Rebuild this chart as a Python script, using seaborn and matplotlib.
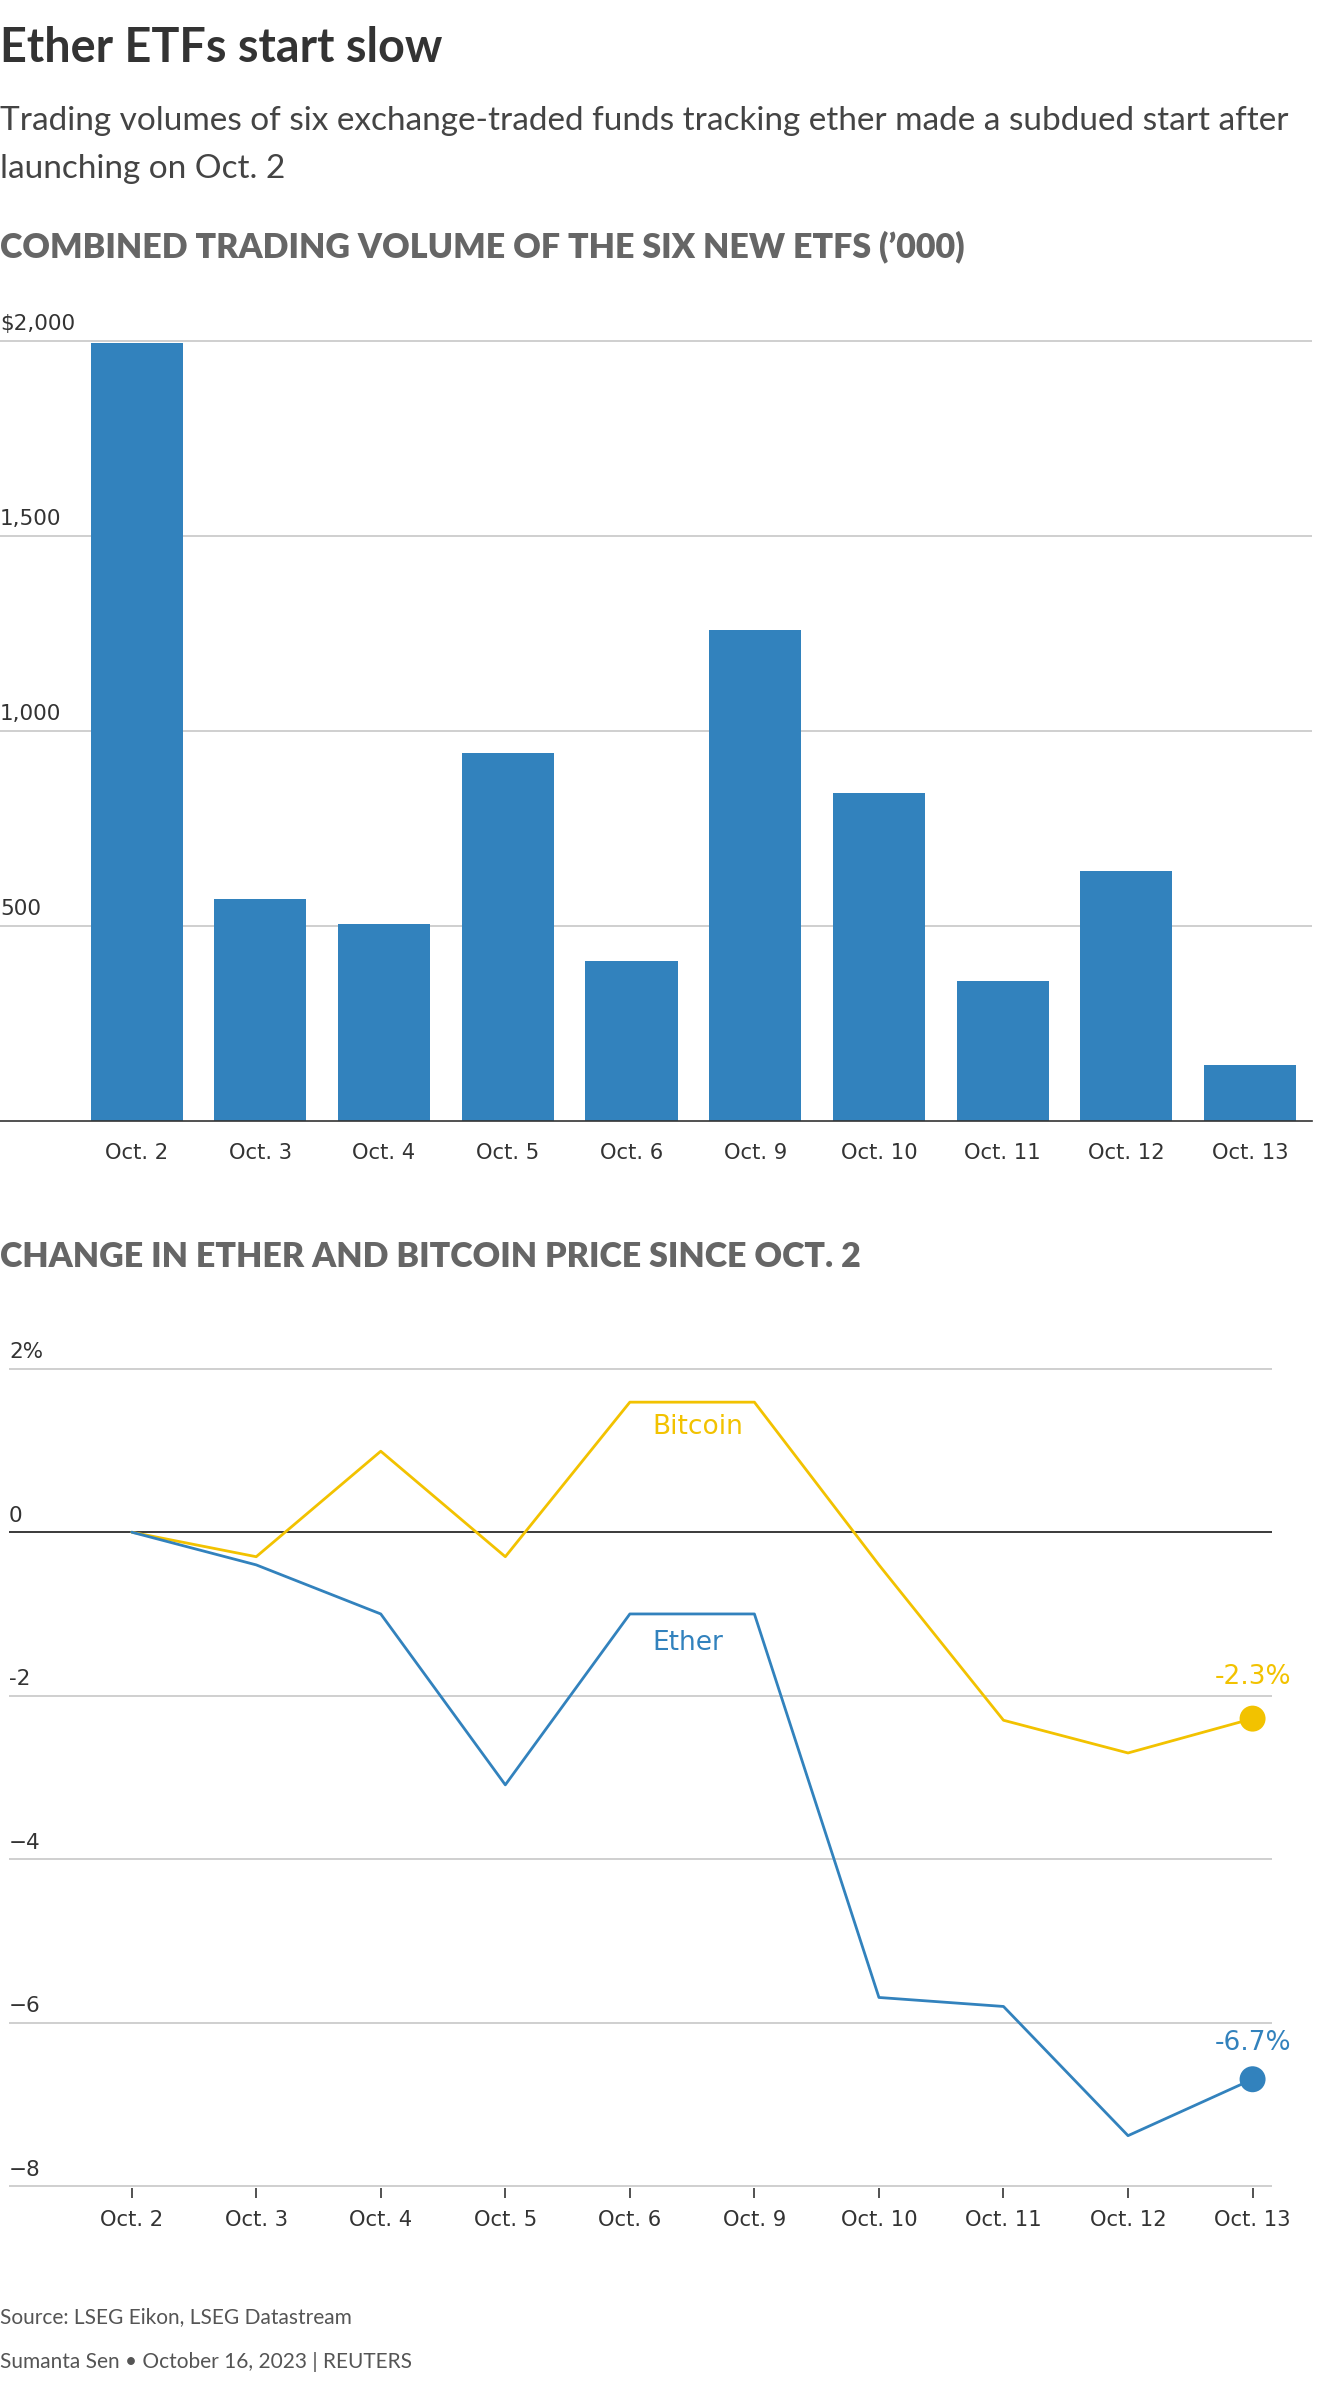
import matplotlib
matplotlib.use("Agg")
import matplotlib.pyplot as plt
import matplotlib.transforms as mtrans
from matplotlib import font_manager
import seaborn as sns
import pandas as pd
import numpy as np

# ---------------- data ----------------
dates = ["Oct. 2", "Oct. 3", "Oct. 4", "Oct. 5", "Oct. 6",
         "Oct. 9", "Oct. 10", "Oct. 11", "Oct. 12", "Oct. 13"]
volume = [1995, 569, 504, 943, 410, 1258, 841, 359, 641, 144]
bitcoin = [0.0, -0.30, 0.99, -0.30, 1.59, 1.59, -0.40, -2.30, -2.70, -2.28]
ether = [0.0, -0.40, -1.00, -3.09, -1.00, -1.00, -5.69, -5.80, -7.38, -6.69]
vol_ticks = [500, 1000, 1500, 2000]
vol_tick_labels = ["500", "1,000", "1,500", "$2,000"]
pct_ticks = [2, 0, -2, -4, -6, -8]
pct_tick_labels = ["2%", "0", "-2", "\u22124", "\u22126", "\u22128"]

title = "Ether ETFs start slow"
subtitle = ["Trading volumes of six exchange-traded funds tracking ether made a subdued start after",
            "launching on Oct. 2"]
header1 = "COMBINED TRADING VOLUME OF THE SIX NEW ETFS (\u2019000)"
header2 = "CHANGE IN ETHER AND BITCOIN PRICE SINCE OCT. 2"
source = "Source: LSEG Eikon, LSEG Datastream"
credit = "Sumanta Sen \u2022 October 16, 2023 | REUTERS"

BLUE = "#3282bd"
YELLOW = "#f2c200"
GRID = "#cccccc"
TXT = "#333333"

W, H = 1320, 2384

sns.set_theme(style="white")
plt.rcParams['font.family'] = ['DejaVu Sans']

avail = {f.name for f in font_manager.fontManager.ttflist}
HEAD_FONT = "Lato" if "Lato" in avail else "DejaVu Sans"

fig = plt.figure(figsize=(W / 100, H / 100), dpi=100)
fig.patch.set_facecolor("white")

def fy(px):
    return 1 - px / H

# ---------------- titles ----------------
fig.text(0.0, fy(62), title, family=HEAD_FONT, weight="bold", fontsize=33.7, color="#333333", va="baseline")
fig.text(0.0, fy(130), subtitle[0], family=HEAD_FONT, fontsize=24, color="#444444", va="baseline")
fig.text(0.0, fy(178), subtitle[1], family=HEAD_FONT, fontsize=24, color="#444444", va="baseline")
fig.text(0.0, fy(257), header1, family=HEAD_FONT, weight="heavy", fontsize=24.5, color="#666666", va="baseline")
fig.text(0.0, fy(1267), header2, family=HEAD_FONT, weight="heavy", fontsize=24.5, color="#666666", va="baseline")
fig.text(0.0, fy(2323), source, family=HEAD_FONT, fontsize=15, color="#555555", va="baseline")
fig.text(0.0, fy(2368), credit, family=HEAD_FONT, fontsize=15, color="#555555", va="baseline")

# ---------------- bar chart ----------------
ax1 = fig.add_axes([0.0, fy(1121), 1312 / W, (1121 - 339) / H])
df_vol = pd.DataFrame({"date": dates, "volume": volume})
sns.barplot(data=df_vol, x="date", y="volume", order=dates, color=BLUE, saturation=1,
            width=0.745, linewidth=0, ax=ax1, zorder=2)
ax1.set_xlim(-1.104, 9.5)
ax1.set_ylim(0, 2004)
ax1.set_xlabel("")
ax1.set_ylabel("")
for s in ["top", "right", "left"]:
    ax1.spines[s].set_visible(False)
ax1.spines["bottom"].set_color(TXT)
ax1.spines["bottom"].set_linewidth(1.2)
ax1.spines["bottom"].set_zorder(3)
ax1.set_yticks(vol_ticks)
ax1.yaxis.grid(True, color=GRID, linewidth=1.3, zorder=0)
ax1.set_axisbelow(True)
ax1.tick_params(axis="y", length=0, labelleft=False)
ax1.tick_params(axis="x", length=7, width=1.2, color=TXT, pad=9, labelsize=15.2, labelcolor=TXT)
ax1.patch.set_alpha(0)
off1 = mtrans.offset_copy(ax1.get_yaxis_transform(), fig=fig, y=7.5, units="points")
for v, lab in zip(vol_ticks, vol_tick_labels):
    ax1.text(0.0, v, lab, transform=off1, ha="left", va="baseline", fontsize=15.5, color=TXT)

# ---------------- line chart ----------------
ax2 = fig.add_axes([9 / W, fy(2188), (1272 - 9) / W, (2188 - 1367) / H])
xpos = list(range(len(dates)))
df_line = pd.DataFrame({"x": xpos * 2,
                        "change": bitcoin + ether,
                        "asset": ["Bitcoin"] * len(dates) + ["Ether"] * len(dates)})
sns.lineplot(data=df_line, x="x", y="change", hue="asset",
             palette={"Bitcoin": YELLOW, "Ether": BLUE}, linewidth=2.0,
             legend=False, ax=ax2, zorder=3)
df_end = pd.DataFrame({"x": [xpos[-1], xpos[-1]],
                       "change": [bitcoin[-1], ether[-1]],
                       "asset": ["Bitcoin", "Ether"]})
sns.scatterplot(data=df_end, x="x", y="change", hue="asset",
                palette={"Bitcoin": YELLOW, "Ether": BLUE}, s=350, linewidth=0,
                legend=False, ax=ax2, zorder=4, clip_on=False)
ax2.set_xlim(-0.985, 9.156)
ax2.set_ylim(-8.02, 2.02)
ax2.set_xlabel("")
ax2.set_ylabel("")
for s in ["top", "right", "left", "bottom"]:
    ax2.spines[s].set_visible(False)
ax2.set_yticks(pct_ticks)
ax2.yaxis.grid(True, color=GRID, linewidth=1.3, zorder=0)
ax2.axhline(0, color="#222222", linewidth=1.2, zorder=2)
ax2.set_xticks(xpos)
ax2.set_xticklabels(dates)
ax2.tick_params(axis="y", length=0, labelleft=False)
ax2.tick_params(axis="x", bottom=True, length=7, width=1.2, color=TXT, pad=9,
                labelsize=15.2, labelcolor=TXT)
ax2.patch.set_alpha(0)
off2 = mtrans.offset_copy(ax2.get_yaxis_transform(), fig=fig, y=7.5, units="points")
for v, lab in zip(pct_ticks, pct_tick_labels):
    ax2.text(0.0, v, lab, transform=off2, ha="left", va="baseline", fontsize=15.5, color=TXT)

# series labels
ax2.text(4.18, 1.29, "Bitcoin", color=YELLOW, fontsize=19, ha="left", va="center")
ax2.text(4.18, -1.35, "Ether", color=BLUE, fontsize=19, ha="left", va="center")
ax2.annotate(f"{bitcoin[-1]:.1f}%", (xpos[-1], bitcoin[-1]), xytext=(0, 30),
             textcoords="offset points", ha="center", va="center", fontsize=19,
             color=YELLOW, annotation_clip=False)
ax2.annotate(f"{ether[-1]:.1f}%", (xpos[-1], ether[-1]), xytext=(0, 26),
             textcoords="offset points", ha="center", va="center", fontsize=19,
             color=BLUE, annotation_clip=False)

fig.savefig("out.png", dpi=100, facecolor="white")
